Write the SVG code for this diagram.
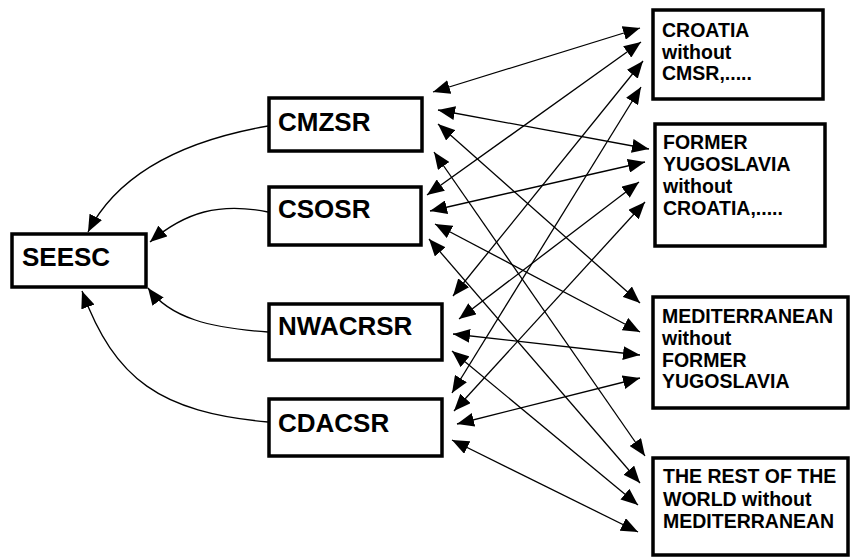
<svg xmlns="http://www.w3.org/2000/svg" width="852" height="558" viewBox="0 0 852 558">
<style>
.box{fill:#fff;stroke:#000;stroke-width:3.5}
.big{font-family:"Liberation Sans",Arial,sans-serif;font-weight:bold;font-size:26px;fill:#000}
.small{font-family:"Liberation Sans",Arial,sans-serif;font-weight:bold;font-size:19.5px;fill:#000}
.ln{fill:none;stroke:#000;stroke-width:1.3}
.dbl{marker-start:url(#ah);marker-end:url(#ah)}
.one{marker-end:url(#ah)}
</style>
<defs>
<marker id="ah" markerUnits="userSpaceOnUse" markerWidth="18" markerHeight="14" refX="17" refY="7" orient="auto-start-reverse">
<path d="M0,0 L17,7 L0,14 z" fill="#000"/>
</marker>
</defs>
<rect width="852" height="558" fill="#fff"/>
<g id="connectors">
<path class="ln one" d="M268,126 Q130,150 88,232"/>
<path class="ln one" d="M268,212 C220,202 185,212 150,242"/>
<path class="ln one" d="M268,332 C210,328 170,318 148,288"/>
<path class="ln one" d="M268,422 C160,412 115,380 82,291"/>
<line class="ln dbl" x1="433" y1="92" x2="640" y2="28"/>
<line class="ln dbl" x1="438" y1="110" x2="649" y2="149"/>
<line class="ln dbl" x1="438" y1="124" x2="640" y2="303"/>
<line class="ln dbl" x1="434" y1="152" x2="645" y2="456"/>
<line class="ln dbl" x1="427" y1="195" x2="641" y2="42"/>
<line class="ln dbl" x1="430" y1="211" x2="645" y2="162"/>
<line class="ln dbl" x1="435" y1="224" x2="640" y2="332"/>
<line class="ln dbl" x1="429" y1="239" x2="640" y2="483"/>
<line class="ln dbl" x1="453" y1="296" x2="643" y2="61"/>
<line class="ln dbl" x1="459" y1="319" x2="639" y2="182"/>
<line class="ln dbl" x1="453" y1="334" x2="640" y2="355"/>
<line class="ln dbl" x1="452" y1="351" x2="638" y2="505"/>
<line class="ln dbl" x1="452" y1="393" x2="641" y2="87"/>
<line class="ln dbl" x1="454" y1="411" x2="645" y2="202"/>
<line class="ln dbl" x1="457" y1="424" x2="640" y2="378"/>
<line class="ln dbl" x1="452" y1="440" x2="638" y2="532"/>
</g>
<g id="SEESC"><rect class="box" x="12" y="234" width="134" height="53"/><text class="big" x="22" y="266">SEESC</text></g>
<g id="CMZSR"><rect class="box" x="269" y="98" width="153" height="53"/><text class="big" x="278" y="131">CMZSR</text></g>
<g id="CSOSR"><rect class="box" x="269" y="187" width="152" height="58"/><text class="big" x="278" y="218">CSOSR</text></g>
<g id="NWACRSR"><rect class="box" x="269" y="304" width="173" height="56"/><text class="big" x="278" y="335">NWACRSR</text></g>
<g id="CDACSR"><rect class="box" x="269" y="399" width="173" height="57"/><text class="big" x="278" y="432">CDACSR</text></g>
<g id="CROATIA"><rect class="box" x="653" y="10" width="170" height="89"/><text class="small"><tspan x="662" y="37">CROATIA</tspan><tspan x="662" y="58.5">without</tspan><tspan x="662" y="80">CMSR,.....</tspan></text></g>
<g id="FORMER_YUGOSLAVIA"><rect class="box" x="655" y="124" width="170" height="122"/><text class="small"><tspan x="663" y="149">FORMER</tspan><tspan x="663" y="171">YUGOSLAVIA</tspan><tspan x="663" y="193">without</tspan><tspan x="663" y="215">CROATIA,.....</tspan></text></g>
<g id="MEDITERRANEAN"><rect class="box" x="653" y="297" width="195" height="111"/><text class="small"><tspan x="662" y="323">MEDITERRANEAN</tspan><tspan x="662" y="345">without</tspan><tspan x="662" y="367">FORMER</tspan><tspan x="662" y="388">YUGOSLAVIA</tspan></text></g>
<g id="REST_OF_WORLD"><rect class="box" x="653" y="458" width="195" height="97"/><text class="small"><tspan x="663" y="483">THE REST OF THE</tspan><tspan x="663" y="506">WORLD without</tspan><tspan x="663" y="528">MEDITERRANEAN</tspan></text></g>
</svg>
